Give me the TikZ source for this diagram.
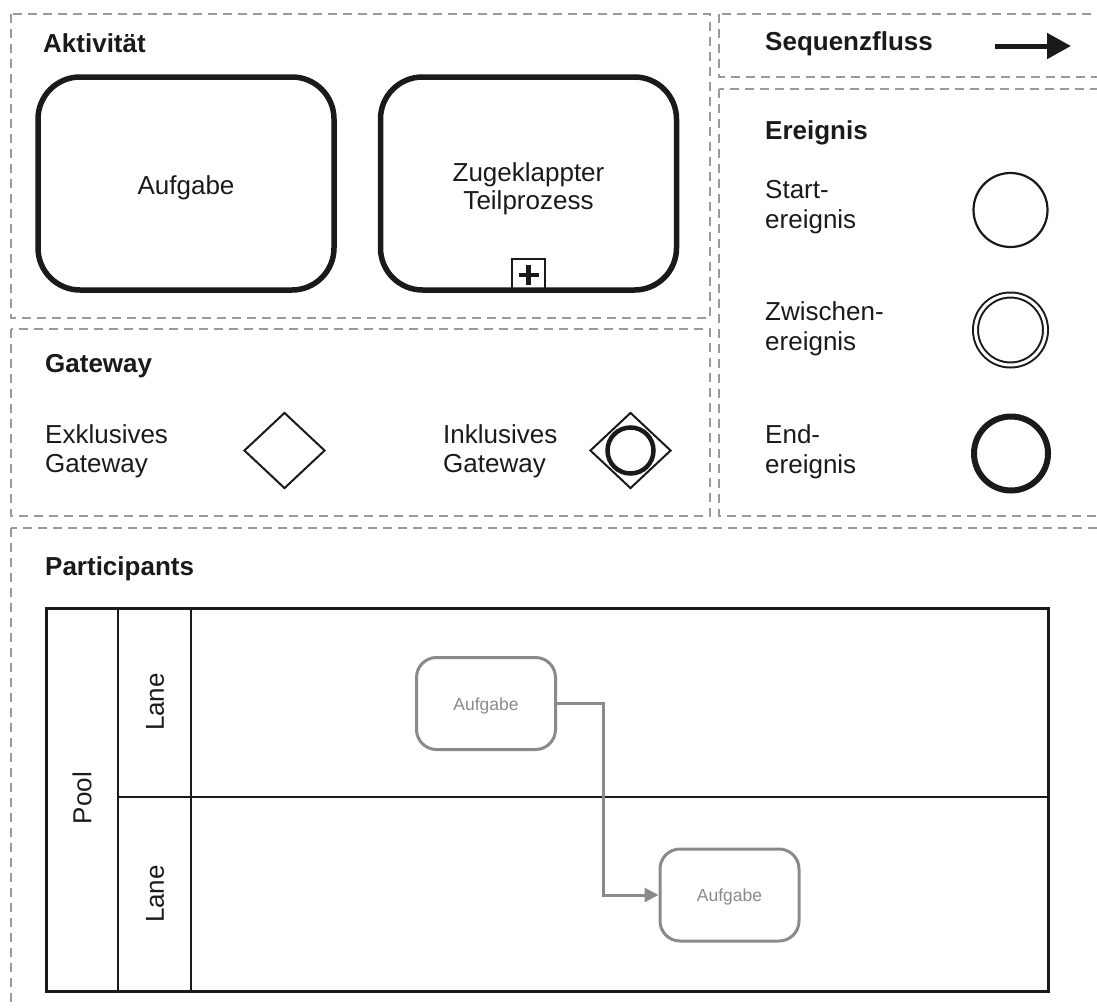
\documentclass[tikz,border=0pt]{standalone}
\usepackage{fontspec}
\setmainfont{Liberation Sans}
\usetikzlibrary{arrows.meta,shapes.geometric}
\definecolor{dashgray}{HTML}{9A9A9A}
\definecolor{ink}{HTML}{1A1A1A}
\definecolor{taskgray}{HTML}{8A8A8A}
\begin{document}
\begin{tikzpicture}[x=1pt,y=-1pt,
  sect/.style={draw=dashgray, line width=2pt, dash pattern=on 9pt off 6pt},
  title/.style={anchor=base west, inner sep=0pt, font=\fontsize{26}{30}\selectfont\bfseries, text=ink},
  lbl/.style={anchor=base west, inner sep=0pt, font=\fontsize{26}{30}\selectfont, text=ink},
  bigtask/.style={draw=ink, line width=5.5pt, rounded corners=42pt, minimum width=296pt, minimum height=213pt, inner sep=0pt},
  tasktext/.style={align=center, inner sep=0pt, text=ink, font=\fontsize{26}{29}\selectfont},
  gtask/.style={draw=taskgray, line width=3pt, rounded corners=20pt, minimum width=139pt, minimum height=92pt, inner sep=0pt, text=taskgray, font=\fontsize{17.5}{20}\selectfont},
  gate/.style={diamond, draw=ink, line width=2pt, minimum width=81pt, minimum height=76pt, inner sep=0pt},
  evt/.style={circle, draw=ink, inner sep=0pt},
  poolline/.style={draw=ink, line width=2.5pt},
  rotlbl/.style={rotate=90, inner sep=0pt, text=ink, font=\fontsize{26}{30}\selectfont}
]
\useasboundingbox (0,0) rectangle (1097,1007);
\clip (0,0) rectangle (1097,1007);

% dashed sections
\draw[sect] (11,14) rectangle (710,318);
\draw[sect] (11,329) rectangle (710,516);
\draw[sect] (719,14) rectangle (1112,77);
\draw[sect] (719,89) rectangle (1112,516);
\draw[sect] (11,528) rectangle (1112,1020);

% Aktivitaet
\node[title] (tAkt) at (43,52) {Aktivität};
\node[bigtask] (task) at (186,183.5) {};
\node[tasktext, anchor=base] (taskT) at (186,194) {Aufgabe};
\node[bigtask] (sub) at (528.5,183.5) {};
\node[tasktext, anchor=base] (subT1) at (528.5,181) {Zugeklappter};
\node[tasktext, anchor=base] (subT2) at (528.5,209) {Teilprozess};
\node[draw=ink, line width=2pt, minimum width=33pt, minimum height=32pt, inner sep=0pt, anchor=south] (mark) at (528.5,292) {};
\draw[ink, line width=4.5pt] ([xshift=-10pt]mark.center) -- ([xshift=10pt]mark.center);
\draw[ink, line width=4.5pt] ([yshift=-10pt]mark.center) -- ([yshift=10pt]mark.center);

% Sequenzfluss
\node[title] (tSeq) at (765,50) {Sequenzfluss};
\coordinate (sfa) at (995,46);
\coordinate (sfb) at (1071,46);
\draw[ink, line width=5pt, -{Triangle[length=24pt, width=25pt]}] (sfa) -- (sfb);

% Gateway
\node[title] (tGw) at (45,372) {Gateway};
\node[lbl] (ex1) at (45,443) {Exklusives};
\node[lbl] (ex2) at (45,472) {Gateway};
\node[gate] (xg) at (284.5,450.5) {};
\node[lbl] (in1) at (443,443) {Inklusives};
\node[lbl] (in2) at (443,472) {Gateway};
\node[gate] (ig) at (630.5,450.5) {};
\node[evt, line width=4.5pt, minimum size=46pt] (igc) at (ig.center) {};

% Ereignis
\node[title] (tEv) at (765,139) {Ereignis};
\node[lbl] (s1) at (765,198) {Start-};
\node[lbl] (s2) at (765,228) {ereignis};
\node[evt, line width=2.2pt, minimum size=74pt] (se) at (1010.5,210) {};
\node[lbl] (z1) at (765,320) {Zwischen-};
\node[lbl] (z2) at (765,350) {ereignis};
\node[evt, line width=2pt, double, double distance=3pt, minimum size=70pt] (ze) at (1010.5,330) {};
\node[lbl] (e1) at (765,443) {End-};
\node[lbl] (e2) at (765,473) {ereignis};
\node[evt, line width=6pt, minimum size=74pt] (ee) at (1011,453.5) {};

% Participants
\node[title] (tPart) at (45,575) {Participants};
\node[poolline, minimum width=1002pt, minimum height=383pt, inner sep=0pt, anchor=north west] (pool) at (45,607) {};
\coordinate (v1t) at (118,607);
\coordinate (v1b) at (118,990);
\coordinate (v2t) at (191,607);
\coordinate (v2b) at (191,990);
\coordinate (hl) at (118,797);
\coordinate (hr) at (1047,797);
\draw[poolline] (v1t) -- (v1b);
\draw[poolline] (v2t) -- (v2b);
\draw[poolline] (hl) -- (hr);
\node[rotlbl] (pl) at (82,798) {Pool};
\node[rotlbl] (l1) at (155,702) {Lane};
\node[rotlbl] (l2) at (155,894) {Lane};

\node[gtask] (t1) at (486,703.5) {};
\node[tasktext, text=taskgray, font=\fontsize{17.5}{20}\selectfont, anchor=base] (t1T) at (486,710) {Aufgabe};
\node[gtask] (t2) at (729.5,895) {};
\node[tasktext, text=taskgray, font=\fontsize{17.5}{20}\selectfont, anchor=base] (t2T) at (729.5,901.5) {Aufgabe};
\draw[taskgray, line width=3pt, -{Triangle[length=14pt, width=14pt]}] (t1.east) -- ++(46,0) |- (t2.west);
\end{tikzpicture}
\end{document}
